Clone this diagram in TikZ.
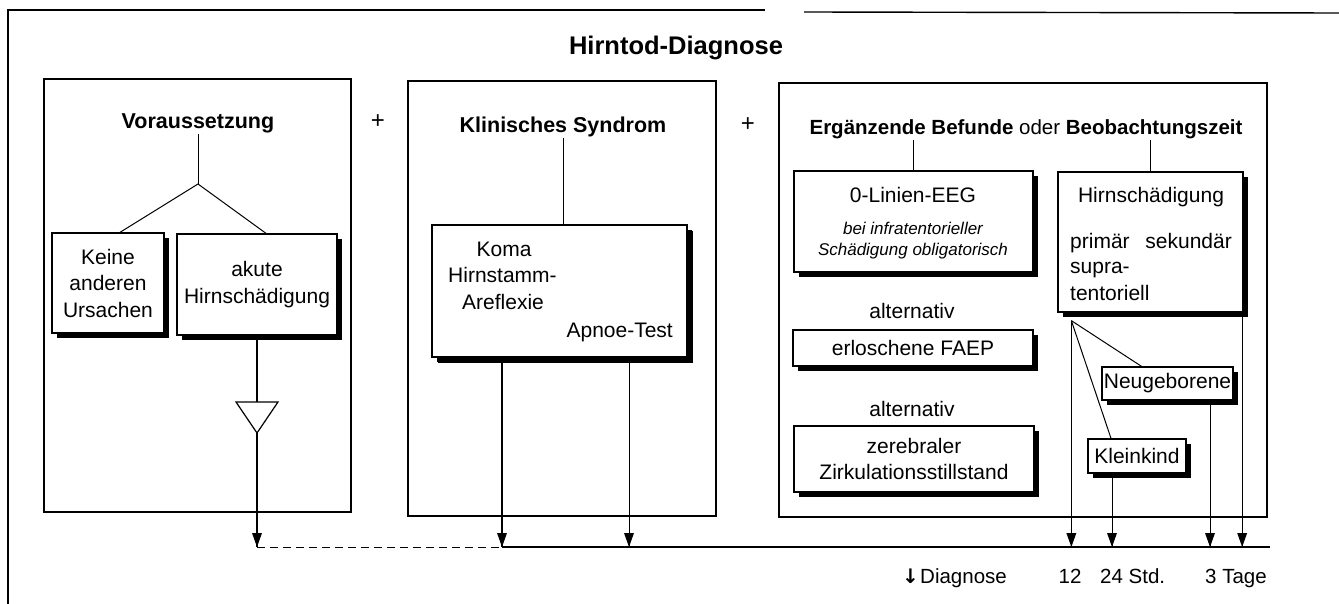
\documentclass[tikz,border=0pt]{standalone}
\usepackage{fontspec}
\setmainfont{Liberation Sans}
\newfontfamily\djv{DejaVu Sans}
\usetikzlibrary{shadows}
\newcommand\myhead[1]{\fill (#1) -- ++(-5,-14) -- ++(10,0) -- cycle;}
\begin{document}
\begin{tikzpicture}[x=1pt,y=-1pt,
  every node/.style={inner sep=0pt, font=\fontsize{21}{26.5}\selectfont},
  frame/.style={line width=1.4pt},
  bigbox/.style={draw, line width=1.2pt},
  sbox/.style={draw, fill=white, line width=1.3pt, align=center,
    drop shadow={opacity=1, fill=black, shadow xshift=5pt, shadow yshift=-5pt}},
  head/.style={font=\fontsize{21.5}{26}\selectfont\bfseries},
  small/.style={font=\fontsize{17}{21}\selectfont\itshape, align=center},
  conn/.style={line width=1pt},
  arr/.style={line width=1.3pt},
  lbl/.style={font=\fontsize{20.5}{24}\selectfont},
]
\useasboundingbox (0,0) rectangle (1339,604);
% outer frame
\draw[frame] (8,604) -- (8,10) -- (765,10);
\draw[frame] (804,12) -- (1339,13);
\node[font=\fontsize{25.5}{30}\selectfont\bfseries, anchor=base] (title) at (676,55) {Hirntod-Diagnose};

% big boxes
\node[bigbox, minimum width=307pt, minimum height=433pt] (b1) at (197.5,295.5) {};
\node[bigbox, minimum width=308pt, minimum height=435pt] (b2) at (562,298.5) {};
\node[bigbox, minimum width=488pt, minimum height=434pt] (b3) at (1023,300) {};
\node[font=\fontsize{24}{26}\selectfont] (p1) at (378,122) {+};
\node[font=\fontsize{24}{26}\selectfont] (p2) at (748,125) {+};

% box 1
\node[head, anchor=base] (vor) at (198,129) {Voraussetzung};
\node[sbox, minimum width=112pt, minimum height=100pt] (keine) at (108,283) {Keine\\anderen\\Ursachen};
\node[sbox, minimum width=160pt, minimum height=101pt] (akute) at (257,284.5) {akute\\Hirnschädigung};
\coordinate (br) at (198,184);
\draw[conn] (vor.south) -- (br);
\draw[conn] ([xshift=12pt]keine.north) -- (br) -- ([xshift=9pt]akute.north);
\coordinate (tt) at (257,402);
\coordinate (tb) at (257,433);
\draw[line width=1.2pt] (236,402) -- (278,402) -- (tb) -- cycle;
\draw[line width=1.4pt] (akute.south) -- (tt);
\coordinate (d0) at (257,547);
\draw[arr] (tb) -- (d0); \myhead{d0}

% box 2
\node[head, anchor=base] (klh) at (563,133) {Klinisches Syndrom};
\node[sbox, minimum width=255pt, minimum height=132pt,
  drop shadow={opacity=1, fill=black, shadow xshift=6pt, shadow yshift=-6pt}] (klin) at (559.5,291) {};
\node[anchor=base] (koma) at (504,257) {Koma};
\node[anchor=base west] (hs) at (448,282) {Hirnstamm-};
\node[anchor=base west] (are) at (462,309) {Areflexie};
\node[anchor=base east] (apn) at (673,337) {Apnoe-Test};
\draw[conn] (klin.north -| klh) -- (klh.south);
\coordinate (a1) at ([xshift=-57.5pt]klin.south);
\coordinate (a2) at ([xshift=69.5pt]klin.south);
\coordinate (e1) at (a1 |- d0);
\coordinate (e2) at (a2 |- d0);
\draw[arr] (a1) -- (e1); \myhead{e1}
\draw[conn] (a2) -- (e2); \myhead{e2}
\coordinate (bend) at (1270,547);
\draw[conn, dash pattern=on 8pt off 5pt] (d0) -- (e1);
\draw[arr] (e1) -- (bend);

% box 3
\node[font=\fontsize{20.5}{26}\selectfont\bfseries, anchor=base] (ergh) at (1026,135) {Ergänzende Befunde {\mdseries oder} Beobachtungszeit};
\node[sbox, minimum width=239pt, minimum height=101pt] (eeg) at (913.5,221.5) {};
\node[anchor=base] (eegt) at (913,203) {0-Linien-EEG};
\node[small] (eegs) at (913,241) {bei infratentorieller\\Schädigung obligatorisch};
\node[sbox, minimum width=185pt, minimum height=140pt] (hirn) at (1150.5,242) {};
\node[anchor=base] (hirnt) at (1151,203) {Hirnschädigung};
\node[anchor=base west] (prim) at (1070,248) {primär};
\node[anchor=base east] (sek) at (1232,248) {sekundär};
\node[anchor=base west] (sup) at (1070,273) {supra-};
\node[anchor=base west] (tent) at (1070,301) {tentoriell};
\draw[conn] (eeg.north) -- (eeg.north |- ergh.south);
\draw[conn] (hirn.north) -- (hirn.north |- ergh.south);

\node[anchor=base] (alt1) at (912,318) {alternativ};
\node[sbox, minimum width=240pt, minimum height=36pt] (faep) at (913,348) {erloschene FAEP};
\node[anchor=base] (alt2) at (912,416) {alternativ};
\node[sbox, minimum width=240pt, minimum height=66pt] (zer) at (914,459) {zerebraler\\Zirkulationsstillstand};

\node[sbox, minimum width=131pt, minimum height=33pt] (neu) at (1167.5,383.5) {Neugeborene};
\node[sbox, minimum width=98pt, minimum height=34pt] (klein) at (1137,456) {Kleinkind};

\coordinate (hp) at ([xshift=14pt,yshift=-8pt]hirn.south west);
\coordinate (e3) at (hp |- d0);
\draw[conn] (hp) -- (e3); \myhead{e3}
\draw[conn] (hp) -- ([xshift=-26pt]neu.north);
\draw[conn] (hp) -- ([xshift=-26pt]klein.north);
\coordinate (a3) at ([xshift=-25pt]klein.south);
\coordinate (a4) at ([xshift=42.5pt]neu.south);
\coordinate (a5) at ([xshift=-1.5pt]hirn.south east);
\coordinate (e4) at (a3 |- d0);
\coordinate (e5) at (a4 |- d0);
\coordinate (e6) at (a5 |- d0);
\draw[conn] (a3) -- (e4); \myhead{e4}
\draw[conn] (a4) -- (e5); \myhead{e5}
\draw[conn] (a5) -- (e6); \myhead{e6}

% bottom labels
\node[anchor=base east, font=\fontsize{20}{24}\selectfont\djv\bfseries] (darr) at (919,583) {↓};
\node[lbl, anchor=base west] (diag) at (920,583) {Diagnose};
\node[lbl, anchor=base] (t12) at (1070,583) {12};
\node[lbl, anchor=base west] (t24) at (1100,583) {24 Std.};
\node[lbl, anchor=base west] (t3) at (1205,583) {3 Tage};
\end{tikzpicture}
\end{document}
